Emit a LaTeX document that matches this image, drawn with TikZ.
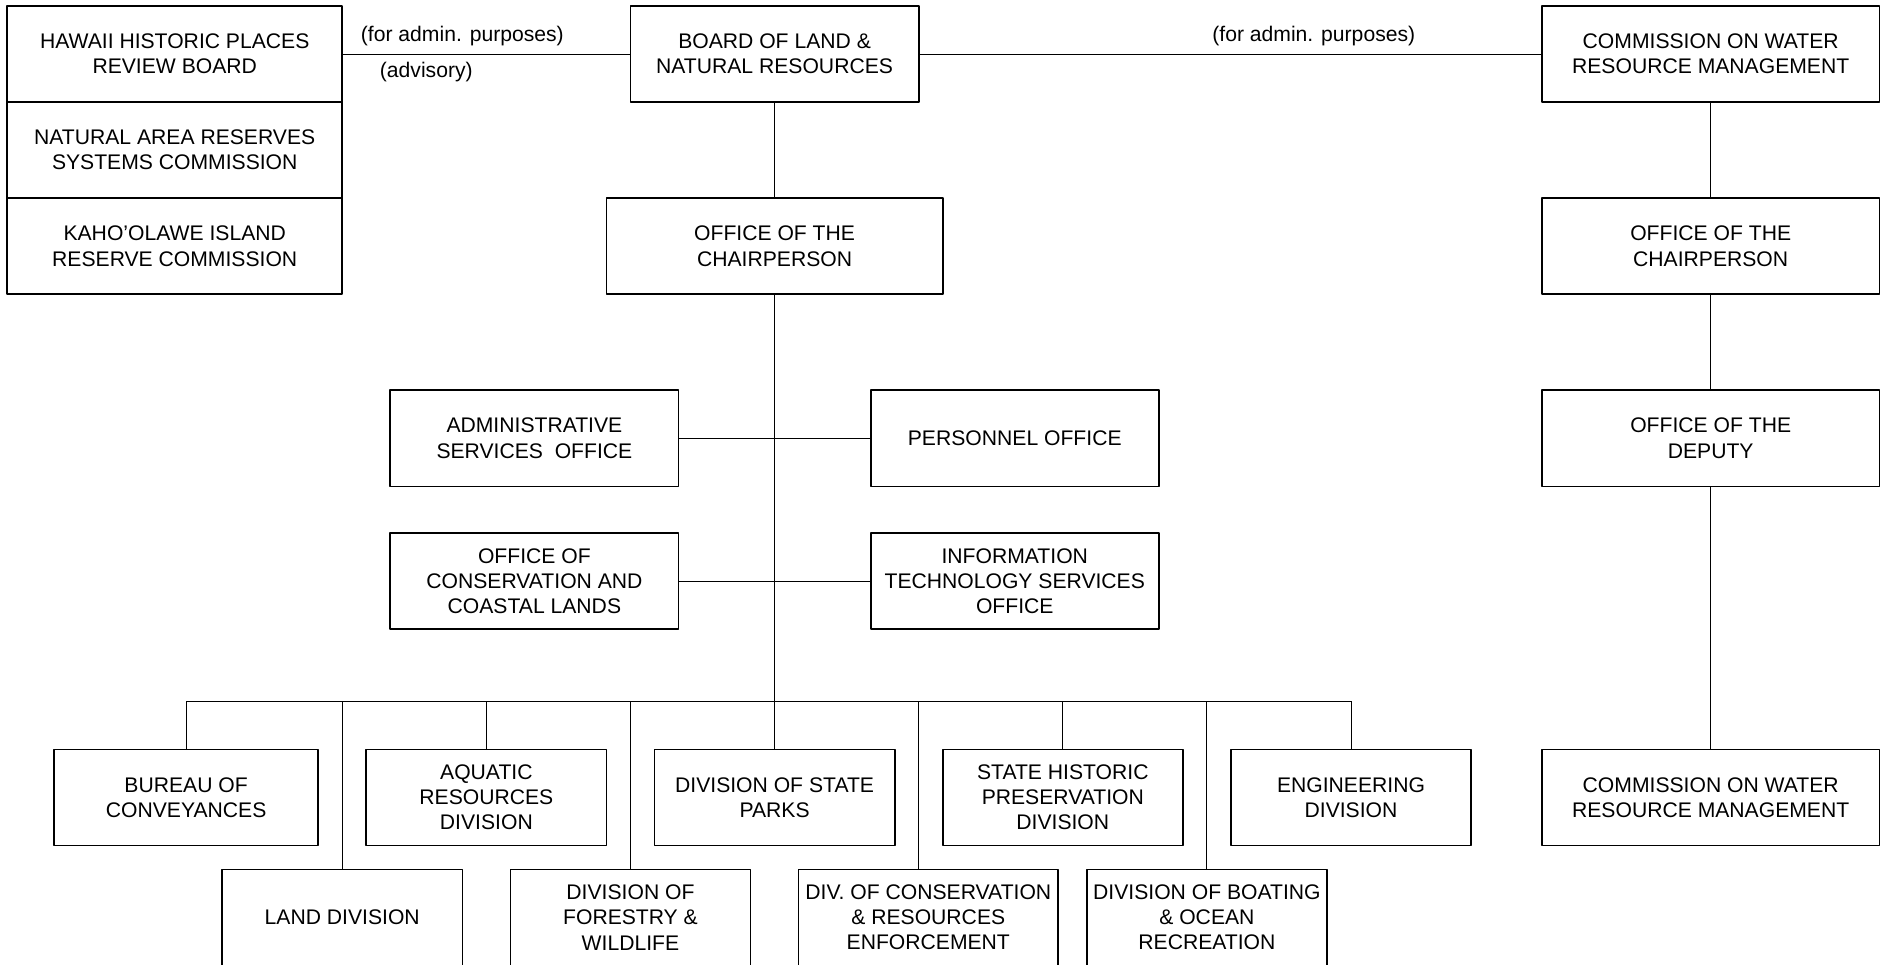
\documentclass[tikz,border=0pt]{standalone}
\usepackage{fontspec}
\setmainfont{Liberation Sans}
\begin{document}
\begin{tikzpicture}[x=1pt, y=-1pt, line join=round,
		font=\fontsize{17.6}{21}\selectfont,
		box/.style={draw, line width=1.4pt, minimum height=80pt, align=center, inner sep=2pt},
		link/.style={line width=0.8pt}]
	\useasboundingbox (0,0) rectangle (1568,803);
	\node[box, minimum width=279pt] (hhp) at (145.5,45) {HAWAII HISTORIC PLACES\\REVIEW BOARD};
	\node[box, minimum width=279pt] (nar) at (145.5,125) {NATURAL AREA RESERVES\\SYSTEMS COMMISSION};
	\node[box, minimum width=279pt] (kir) at (145.5,205) {KAHO'OLAWE ISLAND\\RESERVE COMMISSION};
	\node[box, minimum width=240pt] (blnr) at (645,45) {BOARD OF LAND \&\\NATURAL RESOURCES};
	\node[box, minimum width=281pt] (cwrm) at (1424.5,45) {COMMISSION ON WATER\\RESOURCE MANAGEMENT};
	\node[box, minimum width=280pt] (och) at (645,205) {OFFICE OF THE\\CHAIRPERSON};
	\node[box, minimum width=281pt] (wch) at (1424.5,205) {OFFICE OF THE\\CHAIRPERSON};
	\node[box, minimum width=281pt] (wdep) at (1424.5,365) {OFFICE OF THE\\DEPUTY};
	\node[box, minimum width=240pt] (aso) at (445,365) {ADMINISTRATIVE\\SERVICES~~OFFICE};
	\node[box, minimum width=240pt] (per) at (845,365) {PERSONNEL OFFICE};
	\node[box, minimum width=240pt] (occl) at (445,484) {OFFICE OF\\CONSERVATION AND\\COASTAL LANDS};
	\node[box, minimum width=240pt] (its) at (845,484) {INFORMATION\\TECHNOLOGY SERVICES\\OFFICE};
	\node[box, minimum width=220pt] (boc) at (155,664) {BUREAU OF\\CONVEYANCES};
	\node[box, minimum width=200pt] (aqu) at (405,664) {AQUATIC\\RESOURCES\\DIVISION};
	\node[box, minimum width=200pt] (dsp) at (645,664) {DIVISION OF STATE\\PARKS};
	\node[box, minimum width=200pt] (shp) at (885,664) {STATE HISTORIC\\PRESERVATION\\DIVISION};
	\node[box, minimum width=200pt] (eng) at (1125,664) {ENGINEERING\\DIVISION};
	\node[box, minimum width=281pt] (wcom) at (1424.5,664) {COMMISSION ON WATER\\RESOURCE MANAGEMENT};
	\node[box, minimum width=200pt] (lnd) at (285,764) {LAND DIVISION};
	\node[box, minimum width=200pt] (dfw) at (525,764) {DIVISION OF\\FORESTRY \&\\WILDLIFE};
	\node[box, minimum width=216pt, inner sep=0pt] (docare) at (773,764) {DIV. OF CONSERVATION\\\& RESOURCES\\ENFORCEMENT};
	\node[box, minimum width=200pt, inner sep=0pt] (dobor) at (1005,764) {DIVISION OF BOATING\\\& OCEAN\\RECREATION};
	\coordinate (bus) at (645,584);
	\draw[link] (hhp) -- (blnr) -- (cwrm);
	\draw[link] (blnr) -- (och) -- (bus);
	\draw[link] (cwrm) -- (wch) -- (wdep) -- (wcom);
	\draw[link] (aso) -- (per);
	\draw[link] (occl) -- (its);
	\draw[link] (boc.north |- bus) -- (eng.north |- bus);
	\foreach \n in {boc,lnd,aqu,dfw,dsp,shp,dobor,eng}
	\draw[link] (\n.north) -- (\n.north |- bus);
	\draw[link] ([xshift=-8pt]docare.north) -- ([xshift=-8pt]docare.north |- bus);
	\node (adm1) at (385,30) {(for admin. purposes)};
	\node (adv) at (355,60) {(advisory)};
	\node (adm2) at (1094,30) {(for admin. purposes)};
\end{tikzpicture}
\end{document}
